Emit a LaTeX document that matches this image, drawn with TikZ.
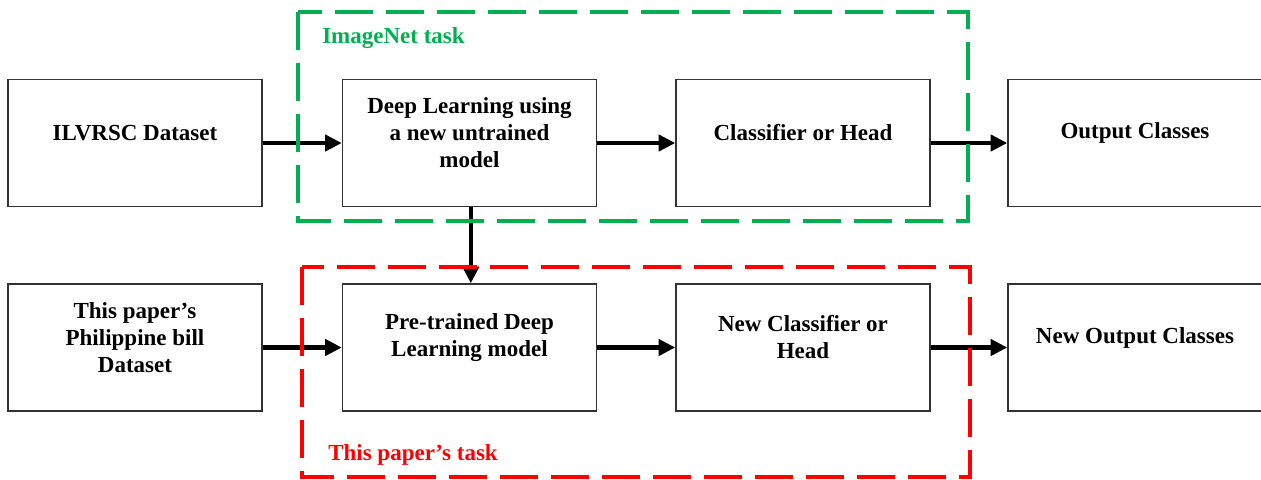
\documentclass[tikz,border=0pt]{standalone}
\usepackage{fontspec}
\setmainfont{Liberation Serif}
\usetikzlibrary{arrows.meta}
\definecolor{wgreen}{RGB}{0,176,80}
\definecolor{wred}{RGB}{255,0,0}
\tikzset{
  box/.style={draw=black!80, line width=1.05pt, fill=white, minimum width=190.5pt, minimum height=95.25pt, inner sep=0pt},
  txt/.style={font=\bfseries\fontsize{17.25pt}{20.25pt}\selectfont, align=center, text=black, yshift=7.5pt},
  flow/.style={line width=3.5pt, -{Triangle[length=12.5pt,width=12pt]}},
  region/.style={line width=3pt, dash pattern=on 28.5pt off 9.75pt},
  tag/.style={font=\bfseries\fontsize{17.25pt}{20.25pt}\selectfont, anchor=base west, inner sep=0pt}
}
\begin{document}
\begin{tikzpicture}[x=0.75pt, y=-0.75pt]
\useasboundingbox (0,0) rectangle (1261,479);
% top row
\node[box, label={[txt]center:ILVRSC Dataset}] (b1) at (135,143) {};
\node[box, label={[txt]center:Deep Learning using\\a new untrained\\model}] (b2) at (469.5,143) {};
\node[box, label={[txt]center:Classifier or Head}] (b3) at (803,143) {};
\node[box, label={[txt]center:Output Classes}] (b4) at (1135,143) {};
% bottom row
\node[box, label={[txt]center:This paper’s\\Philippine bill\\Dataset}] (b5) at (135,347.5) {};
\node[box, label={[txt]center:Pre-trained Deep\\Learning model}] (b6) at (469.5,347.5) {};
\node[box, label={[txt]center:New Classifier or\\Head}] (b7) at (803,347.5) {};
\node[box, label={[txt]center:New Output Classes}] (b8) at (1135,347.5) {};
% arrows
\draw[flow] (b1) -- (b2);
\draw[flow] (b2) -- (b3);
\draw[flow] (b3) -- (b4);
\draw[flow] (b5) -- (b6);
\draw[flow] (b6) -- (b7);
\draw[flow] (b7) -- (b8);
\draw[flow] ([xshift=1pt]b2.south) -- ([xshift=1pt]b6.north);
% regions
\draw[region, wgreen] (298,12) rectangle (968,221);
\draw[region, wred] (302,267) rectangle (970,477);
\node[tag, text=wgreen] (t1) at (322,43) {ImageNet task};
\node[tag, text=wred] (t2) at (328,460) {This paper’s task};
\end{tikzpicture}
\end{document}
